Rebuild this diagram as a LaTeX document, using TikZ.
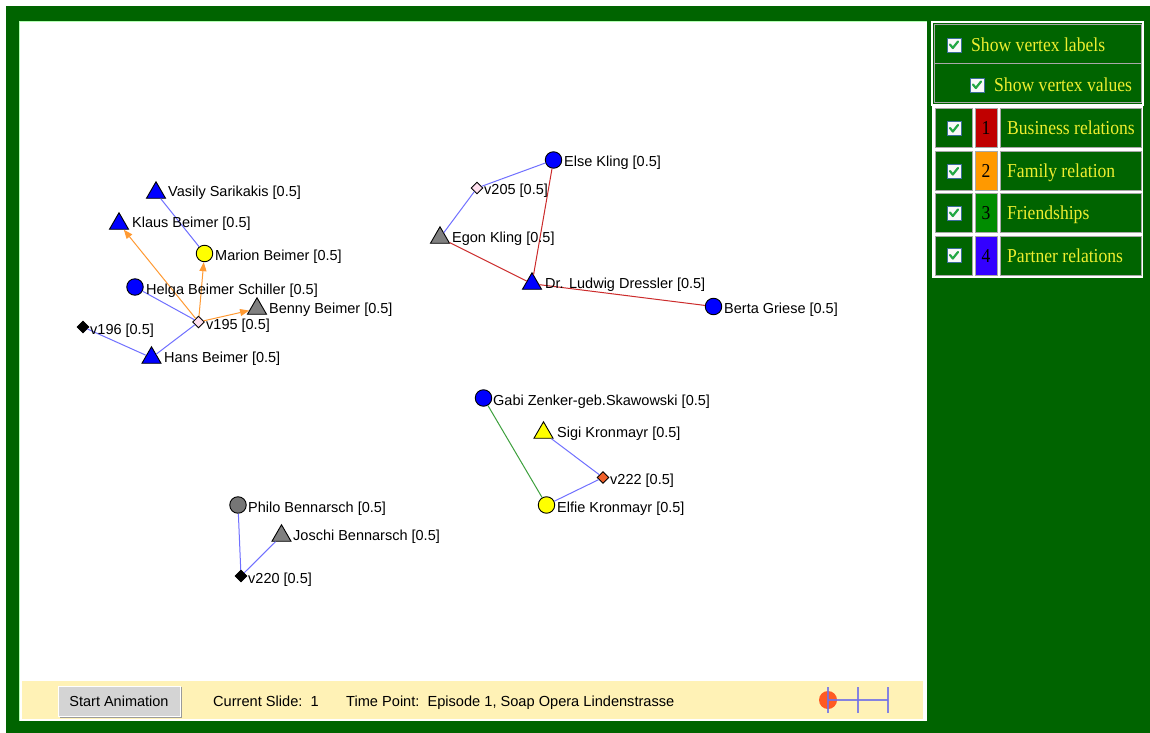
\documentclass[tikz,border=0pt]{standalone}
\usepackage{fontspec}
\setmainfont{Liberation Sans}
\newfontfamily\pfontfam{Liberation Serif}
\usetikzlibrary{shapes.geometric,arrows.meta}
\definecolor{bggreen}{HTML}{006400}
\definecolor{baryellow}{HTML}{FFF2B6}
\definecolor{btngray}{HTML}{D4D4D4}
\definecolor{btnshadow}{HTML}{9A9A9A}
\definecolor{pblue}{HTML}{7070FF}
\definecolor{bred}{HTML}{CC2B2B}
\definecolor{forange}{HTML}{FF9A33}
\definecolor{fgreen}{HTML}{3DA03D}
\definecolor{nblue}{HTML}{0000FF}
\definecolor{nyellow}{HTML}{FFFF00}
\definecolor{ngray}{HTML}{808080}
\definecolor{npink}{HTML}{FFE0EE}
\definecolor{norange}{HTML}{F0602A}
\definecolor{cone}{HTML}{C00000}
\definecolor{ctwo}{HTML}{FF9900}
\definecolor{cthree}{HTML}{008C00}
\definecolor{cfour}{HTML}{3300FF}
\definecolor{ptext}{HTML}{EEEE30}
\definecolor{cellborder}{HTML}{A8A8A8}
\definecolor{chkborder}{HTML}{3C6E9C}
\definecolor{chkgreen}{HTML}{22A844}
\definecolor{tlblue}{HTML}{7070E8}
\definecolor{tlorange}{HTML}{FF5A22}
\newcommand\lblfont{\fontsize{14.5bp}{16bp}\selectfont}
\newcommand\barfont{\fontsize{14.6bp}{16bp}\selectfont}
\newcommand\pnlfont{\pfontfam\fontsize{17.6bp}{20bp}\selectfont}
\tikzset{
  vtri/.style={regular polygon, regular polygon sides=3, minimum size=22bp, inner sep=0pt, draw=black, line width=0.9bp},
  vcirc/.style={circle, minimum size=16.5bp, inner sep=0pt, draw=black, line width=0.9bp},
  vdia/.style={diamond, minimum size=12bp, inner sep=0pt, draw=black, line width=0.9bp},
  lbl/.style={anchor=base west, inner sep=0pt, font=\lblfont, text=black},
  pe/.style={draw=pblue, line width=1bp},
  be/.style={draw=bred, line width=1bp},
  fe/.style={draw=forange, line width=1bp, -{Triangle[length=9bp,width=7bp]}},
  fr/.style={draw=fgreen, line width=1bp},
  cell/.style={draw=cellborder, line width=1bp},
  ptxt/.style={anchor=base west, inner sep=0pt, font=\pnlfont, text=ptext},
  ntxt/.style={anchor=base, inner sep=0pt, font=\pnlfont, text=black},
  chk/.pic={
    \draw[draw=chkborder, fill=white!95!gray, line width=0.9bp] (-7,-7) rectangle (7,7);
    \draw[draw=chkgreen, line width=2.2bp, line cap=round, line join=round] (-4,-0.5) -- (-1.2,3) -- (4,-3.5);
  },
  bartxt/.style={anchor=base west, inner sep=0pt, font=\barfont, text=black}
}
\begin{document}
\begin{tikzpicture}[x=1bp,y=-1bp]
\useasboundingbox (0,0) rectangle (1150,733);
% backgrounds
\fill[white] (0,0) rectangle (1150,733);
\fill[bggreen] (6,6) rectangle (1150,733);
\fill[white] (19,21) rectangle (927,721);
\draw[green!30!white, line width=0.8bp] (19.4,721) -- (19.4,21.4) -- (927,21.4);
\fill[baryellow] (22,681) rectangle (923,719);

% ---------- group 1 ----------
\node[vtri, fill=nblue] (vas) at (156,192.75) {};
\node[vtri, fill=nblue] (kla) at (119,223.75) {};
\node[vcirc, fill=nyellow] (mar) at (204.5,253.5) {};
\node[vcirc, fill=nblue] (hel) at (135,287) {};
\node[vtri, fill=ngray] (ben) at (257,308.75) {};
\node[vdia, fill=npink] (v195) at (198.5,322) {};
\node[vdia, fill=black] (v196) at (83,327) {};
\node[vtri, fill=nblue] (han) at (151.5,357.75) {};
% ---------- group 2 ----------
\node[vcirc, fill=nblue] (els) at (553.5,160) {};
\node[vdia, fill=npink] (v205) at (477,188) {};
\node[vtri, fill=ngray] (ego) at (440,237.75) {};
\node[vtri, fill=nblue] (lud) at (532,283.75) {};
\node[vcirc, fill=nblue] (ber) at (713.5,306.5) {};
% ---------- group 3 ----------
\node[vcirc, fill=nblue] (gab) at (483.5,398) {};
\node[vtri, fill=nyellow] (sig) at (543.5,432.75) {};
\node[vdia, fill=norange] (v222) at (603,477.5) {};
\node[vcirc, fill=nyellow] (elf) at (546.5,505) {};
% ---------- group 4 ----------
\node[vcirc, fill=ngray!92!black] (phi) at (238,505) {};
\node[vtri, fill=ngray] (jos) at (281.5,535.75) {};
\node[vdia, fill=black] (v220) at (241,576) {};

% edges
\draw[pe] (vas) -- (mar);
\draw[fe] (v195) -- (kla);
\draw[fe] (v195) -- (mar);
\draw[fe] (v195) -- (ben);
\draw[pe] (hel) -- (v195);
\draw[pe] (v196) -- (han);
\draw[pe] (han) -- (v195);
\draw[pe] (els) -- (v205);
\draw[pe] (v205) -- (ego);
\draw[be] (ego) -- (lud);
\draw[be] (els) -- (lud);
\draw[be] (lud) -- (ber);
\draw[fr] (gab) -- (elf);
\draw[pe] (sig) -- (v222);
\draw[pe] (v222) -- (elf);
\draw[pe] (phi) -- (v220);
\draw[pe] (jos) -- (v220);

% labels
\node[lbl] (lvas) at (168,197) {Vasily Sarikakis [0.5]};
\node[lbl] (lkla) at (132,228) {Klaus Beimer [0.5]};
\node[lbl] (lmar) at (215,260.5) {Marion Beimer [0.5]};
\node[lbl] (lhel) at (146,294) {Helga Beimer Schiller [0.5]};
\node[lbl] (lben) at (269,313) {Benny Beimer [0.5]};
\node[lbl] (lv195) at (206,329) {v195 [0.5]};
\node[lbl] (lv196) at (90,334) {v196 [0.5]};
\node[lbl] (lhan) at (164,362) {Hans Beimer [0.5]};
\node[lbl] (lels) at (564,167) {Else Kling [0.5]};
\node[lbl] (lv205) at (484,195) {v205 [0.5]};
\node[lbl] (lego) at (452,242.5) {Egon Kling [0.5]};
\node[lbl] (llud) at (545,288.5) {Dr. Ludwig Dressler [0.5]};
\node[lbl] (lber) at (724,313.5) {Berta Griese [0.5]};
\node[lbl] (lgab) at (493,405) {Gabi Zenker-geb.Skawowski [0.5]};
\node[lbl] (lsig) at (557,437) {Sigi Kronmayr [0.5]};
\node[lbl] (lv222) at (610,484.5) {v222 [0.5]};
\node[lbl] (lelf) at (557,512) {Elfie Kronmayr [0.5]};
\node[lbl] (lphi) at (248,512) {Philo Bennarsch [0.5]};
\node[lbl] (ljos) at (293,540) {Joschi Bennarsch [0.5]};
\node[lbl] (lv220) at (248,583) {v220 [0.5]};

% ---------- bottom bar ----------
\fill[btnshadow] (60,687) rectangle (182,718);
\node[fill=btngray, draw=white, line width=0.8bp, minimum width=122bp, minimum height=30bp, inner sep=0pt, font=\lblfont] (btn) at (119,701) {Start Animation};
\node[bartxt] (slide) at (213,706) {Current Slide:\ \ 1};
\node[bartxt] (tpoint) at (346,706) {Time Point:\ \ Episode 1, Soap Opera Lindenstrasse};
\fill[tlorange] (828,700) circle (9);
\coordinate (t0) at (828,700);
\coordinate (t1) at (858,700);
\coordinate (t2) at (888,700);
\draw[tlblue, line width=1.3bp, opacity=0.85] (t0) -- (t2);
\foreach \tx in {828,858,888}{
  \draw[tlblue, line width=1.6bp, opacity=0.85] (\tx,687) -- (\tx,713);
}

% ---------- right panel ----------
\draw[white, line width=2bp] (932,22) rectangle (1143,105);
\draw[cell] (934.5,24.5) rectangle (1141,64);
\draw[cell] (934.5,64) rectangle (1141,102.5);
\pic at (954,45) {chk};
\pic at (977,85) {chk};
\node[ptxt] (svl) at (971,52) {\scalebox{1}[1.12]{Show vertex labels}};
\node[ptxt] (svv) at (994,91.5) {\scalebox{1}[1.12]{Show vertex values}};

\fill[white] (932,105.5) rectangle (1143,278);
\foreach \ya/\yb/\col/\num/\txt [count=\i] in {109/148/cone/1/Business relations,152/191/ctwo/2/Family relation,194/232/cthree/3/Friendships,236/275/cfour/4/Partner relations}{
  \draw[cell, fill=bggreen] (935,\ya) rectangle (972,\yb);
  \draw[cell, fill=\col] (975,\ya) rectangle (997,\yb);
  \draw[cell, fill=bggreen] (1000,\ya) rectangle (1141,\yb);
  \pic at (954,{(\ya+\yb)/2}) {chk};
  \node[ntxt] (num\i) at (986,{(\ya+\yb)/2+6.5}) {\scalebox{1}[1.12]{\num}};
  \node[ptxt] (leg\i) at (1007,{(\ya+\yb)/2+6.5}) {\scalebox{1}[1.12]{\txt}};
}
\end{tikzpicture}
\end{document}
